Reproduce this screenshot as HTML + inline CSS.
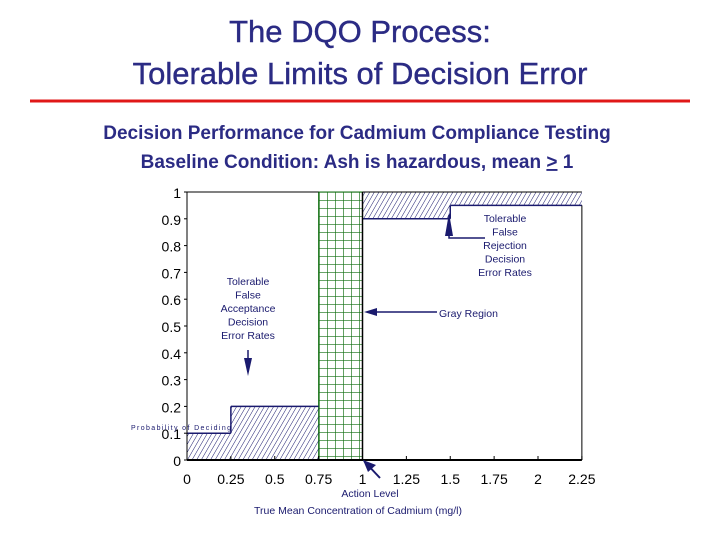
<!DOCTYPE html>
<html><head><meta charset="utf-8"><style>
body{margin:0;background:#fff;}
svg{display:block;font-family:"Liberation Sans",sans-serif;}
</style></head><body>
<svg width="720" height="540" viewBox="0 0 720 540">
<defs>
<pattern id="hatch" width="4" height="4" patternUnits="userSpaceOnUse" patternTransform="rotate(30)">
<line x1="0" y1="0" x2="0" y2="4" stroke="#1a1a6e" stroke-width="1"/>
</pattern>
<pattern id="grid" width="8" height="8" patternUnits="userSpaceOnUse" x="319" y="192">
<path d="M0 0H8M0 0V8" stroke="#0f6e0f" stroke-width="1.3" fill="none"/>
</pattern>
</defs>
<text x="360" y="42" text-anchor="middle" font-size="31" fill="#2b2b84" stroke="#2b2b84" stroke-width="0.4">The DQO Process:</text>
<text x="360" y="84" text-anchor="middle" font-size="31" fill="#2b2b84" stroke="#2b2b84" stroke-width="0.4">Tolerable Limits of Decision Error</text>
<line x1="30" y1="101" x2="690" y2="101" stroke="#e01818" stroke-width="3"/>
<text x="357" y="139" text-anchor="middle" font-size="19" font-weight="bold" fill="#2b2b84">Decision Performance for Cadmium Compliance Testing</text>
<text x="357" y="168" text-anchor="middle" font-size="19" font-weight="bold" fill="#2b2b84">Baseline Condition: Ash is hazardous, mean <tspan text-decoration="underline">&gt;</tspan> 1</text>
<g id="chart"></g>
</svg>
<script>
const xTicks=[0,0.25,0.5,0.75,1,1.25,1.5,1.75,2,2.25];
const yTicks=[0,0.1,0.2,0.3,0.4,0.5,0.6,0.7,0.8,0.9,1];
const faStarts=[0,0.25];
const faEnds=[0.25,0.75];
const faValues=[0.1,0.2];
const frStarts=[1,1.5];
const frEnds=[1.5,2.25];
const frValues=[0.9,0.95];
const grayStart=0.75, grayEnd=1;
const X=v=>187+v*175.5;
const Y=v=>460-v*268;
const NS="http://www.w3.org/2000/svg";
const g=document.getElementById('chart');
function mk(t,a,txt){const e=document.createElementNS(NS,t);for(const k in a)e.setAttribute(k,a[k]);if(txt!==undefined)e.textContent=txt;g.appendChild(e);return e;}
let gr=mk('rect',{x:X(grayStart),y:Y(1),width:X(grayEnd)-X(grayStart),height:Y(0)-Y(1),fill:'url(#grid)',stroke:'#0f6e0f'});


faValues.forEach((v,i)=>{
 let r=mk('rect',{x:X(faStarts[i]),y:Y(v),width:X(faEnds[i])-X(faStarts[i]),height:Y(0)-Y(v),fill:'url(#hatch)'});
 
 
 mk('line',{x1:X(faStarts[i]),y1:Y(v),x2:X(faEnds[i]),y2:Y(v),stroke:'#1a1a6e','stroke-width':1.5});
 if(i>0) mk('line',{x1:X(faStarts[i]),y1:Y(faValues[i-1]),x2:X(faStarts[i]),y2:Y(v),stroke:'#1a1a6e','stroke-width':1.5});
});
frValues.forEach((v,i)=>{
 let r=mk('rect',{x:X(frStarts[i]),y:Y(1),width:X(frEnds[i])-X(frStarts[i]),height:Y(v)-Y(1),fill:'url(#hatch)'});
 
 
 mk('line',{x1:X(frStarts[i]),y1:Y(v),x2:X(frEnds[i]),y2:Y(v),stroke:'#1a1a6e','stroke-width':1.5});
 if(i>0) mk('line',{x1:X(frStarts[i]),y1:Y(frValues[i-1]),x2:X(frStarts[i]),y2:Y(v),stroke:'#1a1a6e','stroke-width':1.5});
});
mk('line',{x1:X(0),y1:Y(0),x2:X(0),y2:Y(1),stroke:'#000'});
mk('line',{x1:X(0),y1:Y(1),x2:X(grayStart),y2:Y(1),stroke:'#000'});
mk('line',{x1:X(1),y1:Y(1),x2:X(2.25),y2:Y(1),stroke:'#000'});
mk('line',{x1:X(1),y1:Y(0),x2:X(1),y2:Y(1),stroke:'#000','stroke-width':1.5});
mk('line',{x1:X(2.25),y1:Y(0.95),x2:X(2.25),y2:Y(0),stroke:'#000'});
let xa=mk('line',{x1:X(0),y1:Y(0),x2:X(2.25),y2:Y(0),stroke:'#000','stroke-width':2});


yTicks.forEach(v=>{
 let t=mk('text',{x:X(0)-6,y:Y(v)+6,'text-anchor':'end','font-size':14,fill:'#000'},String(v));
 
 
 mk('line',{x1:X(0)-3,y1:Y(v),x2:X(0),y2:Y(v),stroke:'#000'});
});
xTicks.forEach(v=>{
 let t=mk('text',{x:X(v),y:484,'text-anchor':'middle','font-size':14,fill:'#000'},String(v));
 
 
 mk('line',{x1:X(v),y1:Y(0),x2:X(v),y2:Y(0)-4,stroke:'#000'});
});
const nv='#1a1a6e';
function lines(arr,x,y0,dy,name){arr.forEach((s,i)=>{let t=mk('text',{x:x,y:y0+i*dy,'text-anchor':'middle','font-size':10.5,fill:nv},s);});}
lines(['Tolerable','False','Acceptance','Decision','Error Rates'],248,285,13.5,'false-acceptance-label');
mk('line',{x1:248,y1:350,x2:248,y2:372,stroke:nv,'stroke-width':1.5});
mk('polygon',{points:'244,358 252,358 248,376',fill:nv});
lines(['Tolerable','False','Rejection','Decision','Error Rates'],505,222,13.5,'false-rejection-label');
mk('path',{d:'M449 215 V238 H485',stroke:nv,fill:'none','stroke-width':1.5});
mk('polygon',{points:'449,213 445,236 453,236',fill:nv});
let gl=mk('text',{x:439,y:317,'font-size':10.5,fill:nv},'Gray Region');
mk('line',{x1:375,y1:312,x2:437,y2:312,stroke:nv,'stroke-width':1.5});
mk('polygon',{points:'364,312 377,308 377,316',fill:nv});
mk('line',{x1:364,y1:461,x2:380,y2:478,stroke:nv,'stroke-width':2});
mk('polygon',{points:'363,460 376,465 368,472',fill:nv});
let al=mk('text',{x:370,y:497,'text-anchor':'middle','font-size':10.5,fill:nv},'Action Level');
let xt=mk('text',{x:358,y:514,'text-anchor':'middle','font-size':10.5,fill:nv},'True Mean Concentration of Cadmium (mg/l)');
let yt=mk('text',{x:131,y:430,'font-size':7,fill:nv,textLength:100},'Probability of Deciding');
</script>
</body></html>
